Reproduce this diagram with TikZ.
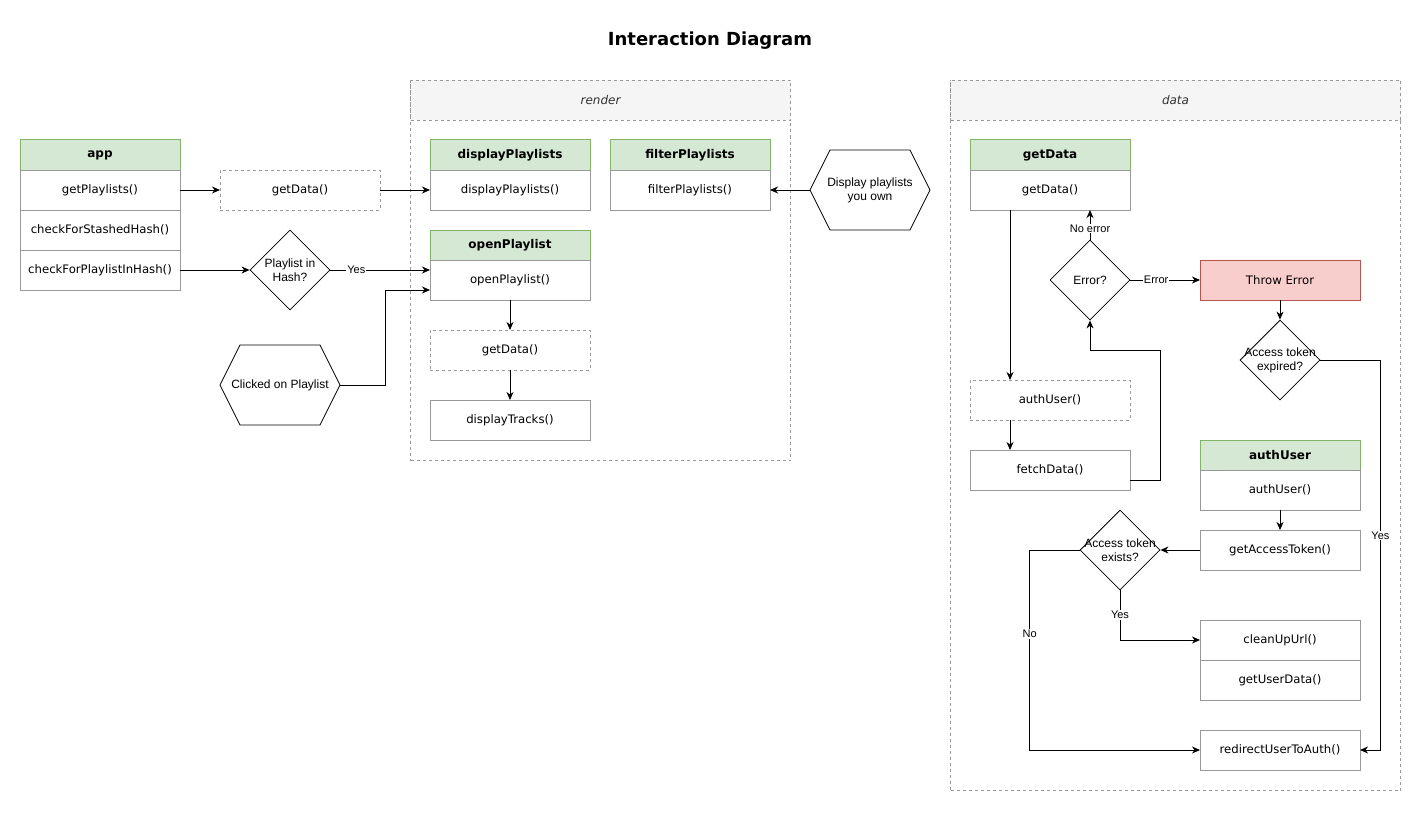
\documentclass[tikz,border=0pt]{standalone}
\usepackage{fontspec}
\setmainfont{DejaVu Sans}
\newfontfamily\helv{Liberation Sans}
\usetikzlibrary{shapes.geometric, shapes.symbols, arrows.meta, positioning, calc}
\definecolor{hdrGreen}{HTML}{D5E8D4}
\definecolor{hdrLine}{HTML}{82B366}
\definecolor{errRed}{HTML}{F8CECC}
\definecolor{errLine}{HTML}{B85450}
\definecolor{boxGray}{HTML}{999999}
\definecolor{contFill}{HTML}{F5F5F5}
\definecolor{labGray}{HTML}{333333}

\begin{document}
\begin{tikzpicture}[
  x=1pt, y=-1pt, line width=1pt,
  hdr/.style={
    rectangle, draw=hdrLine, fill=hdrGreen, outer sep=0pt,
    minimum width=160pt, minimum height=30pt,
    font=\fontsize{12}{14}\selectfont\bfseries
  },
  member/.style={
    rectangle, draw=boxGray, fill=white, outer sep=0pt,
    minimum width=160pt, minimum height=40pt,
    font=\fontsize{11.7}{14}\selectfont
  },
  call/.style={member, dash pattern=on 3pt off 3pt},
  errbox/.style={member, draw=errLine, fill=errRed},
  dec/.style={diamond, draw, line width=0.8pt,
    minimum width=80pt, minimum height=80pt, inner sep=0pt},
  dtext/.style={font=\helv\fontsize{12}{14}\selectfont, align=center},
  event/.style={
    signal, signal to=west and east, signal pointer angle=126.87,
    draw, line width=0.8pt, inner sep=0pt,
    minimum width=120pt, minimum height=80pt
  },
  cont/.style={rectangle, draw=boxGray, dash pattern=on 3pt off 3pt,
    anchor=north west, inner sep=0pt},
  conthdr/.style={cont, fill=contFill, minimum height=40pt,
    font=\fontsize{12}{14}\selectfont\itshape, text=labGray},
  arr/.style={-{Stealth[length=8pt,width=7pt,inset=2.5pt]}},
  lbl/.style={fill=white, inner sep=1pt, font=\helv\fontsize{11}{13}\selectfont}
]
  \useasboundingbox (0,0) rectangle (1421,832);

  \node[font=\fontsize{18}{21}\selectfont\bfseries] (title) at (710,41)
    {Interaction Diagram};

  % containers
  \node[cont, minimum width=380pt, minimum height=380pt] (renderBox) at (410,80) {};
  \node[conthdr, minimum width=380pt] (renderHdr) at (410,80) {render};
  \node[cont, minimum width=450pt, minimum height=710pt] (dataBox) at (950,80) {};
  \node[conthdr, minimum width=450pt] (dataHdr) at (950,80) {data};

  % app
  \node[hdr] (appHdr) at (100,155) {app};
  \node[member, below=0pt of appHdr] (getPl) {getPlaylists()};
  \node[member, below=0pt of getPl] (chkStash) {checkForStashedHash()};
  \node[member, below=0pt of chkStash] (chkHash) {checkForPlaylistInHash()};

  \node[call] (appGet) at (300,190) {getData()};
  \node[dec, label={[dtext]center:{Playlist in\\Hash?}}] (inHash) at (290,270) {};
  \node[event, label={[dtext]center:Clicked on Playlist}] (clicked) at (280,385) {};

  % render
  \node[hdr] (dispHdr) at (510,155) {displayPlaylists};
  \node[member, below=0pt of dispHdr] (disp) {displayPlaylists()};
  \node[hdr] (filtHdr) at (690,155) {filterPlaylists};
  \node[member, below=0pt of filtHdr] (filt) {filterPlaylists()};
  \node[event, label={[dtext]center:{Display playlists\\you own}}] (ownPl) at (870,190) {};
  \node[hdr] (openHdr) at (510,245) {openPlaylist};
  \node[member, below=0pt of openHdr] (open) {openPlaylist()};
  \node[call] (openGet) at (510,350) {getData()};
  \node[member] (tracks) at (510,420) {displayTracks()};

  % data
  \node[hdr] (getHdr) at (1050,155) {getData};
  \node[member, below=0pt of getHdr] (get) {getData()};
  \node[dec, label={[dtext]center:Error?}] (err) at (1090,280) {};
  \node[errbox] (throw) at (1280,280) {Throw Error};
  \node[dec, label={[dtext]center:{Access token\\expired?}}] (expired) at (1280,360) {};
  \node[call] (auth) at (1050,400) {authUser()};
  \node[member] (fetch) at (1050,470) {fetchData()};
  \node[hdr] (authHdr) at (1280,455) {authUser};
  \node[member, below=0pt of authHdr] (authFn) {authUser()};
  \node[member] (token) at (1280,550) {getAccessToken()};
  \node[dec, label={[dtext]center:{Access token\\exists?}}] (exists) at (1120,550) {};
  \node[member] (clean) at (1280,640) {cleanUpUrl()};
  \node[member, below=0pt of clean] (userData) {getUserData()};
  \node[member] (redir) at (1280,750) {redirectUserToAuth()};

  % app -> render
  \draw[arr] (getPl) -- (appGet);
  \draw[arr] (appGet) -- (disp);
  \draw[arr] (chkHash) -- (inHash);
  \draw[arr] (inHash) -- node[lbl, pos=0.26]{Yes} ($(open.west)+(0,-10)$);
  \draw[arr] (clicked.east) -- ++(45,0) |- ($(open.west)+(0,10)$);
  \draw[arr] (open) -- (openGet);
  \draw[arr] (openGet) -- (tracks);
  \draw[arr] (ownPl) -- (filt);

  % data flow
  \draw[arr] ([xshift=-40pt]get.south) -- ([xshift=-40pt]auth.north);
  \draw[arr] ([xshift=-40pt]auth.south) -- ([xshift=-40pt]fetch.north);
  \draw[arr] ([yshift=-10pt]fetch.east) -- ++(30,0) |- ($(err.south)+(0,30)$) -- (err.south);
  \draw[arr] (err.north) -- node[lbl, pos=0.37]{No error} ([xshift=40pt]get.south);
  \draw[arr] (err) -- node[lbl, pos=0.37]{Error} (throw);
  \draw[arr] (throw) -- (expired);
  \draw[arr] (expired.east) -- ++(60,0) |- node[lbl, pos=0.225]{Yes} (redir.east);

  % auth
  \draw[arr] (authFn) -- (token);
  \draw[arr] (token) -- (exists);
  \draw[arr] (exists.south) |- node[lbl, pos=0.25]{Yes} (clean.west);
  \draw[arr] (exists.west) -- ++(-50,0) |- node[lbl, pos=0.21]{No} (redir.west);
\end{tikzpicture}
\end{document}
